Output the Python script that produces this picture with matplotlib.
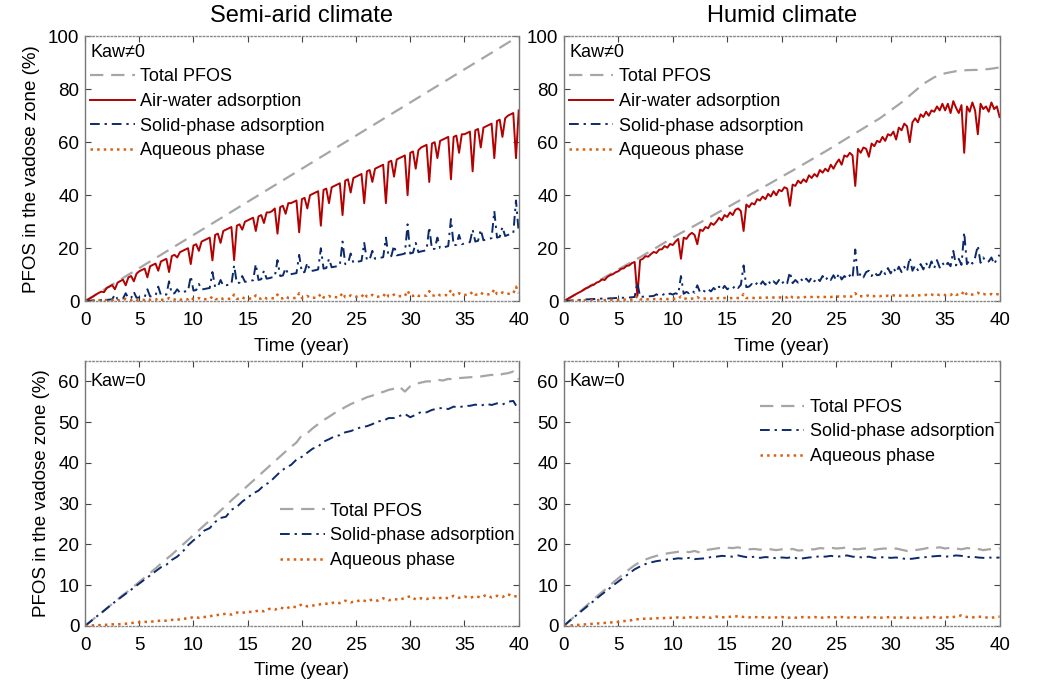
import matplotlib.pyplot as plt
import numpy as np

plt.rcParams['font.family'] = ['Liberation Sans', 'DejaVu Sans']

# time axes
t_quarter = np.arange(0, 40.01, 0.25)   # 161 points, top panels
t_half = np.arange(0, 40.01, 0.5)       # 81 points, bottom panels
t_year = np.arange(0, 41, 1)            # 41 points

# ---- Semi-arid, Kaw != 0 ----
semi_total_t = [0, 40]
semi_total = [0, 100]
semi_air = [
    0, 0.6, 1.2, 1.8, 2.5, 3.1, 3.6, 3.4, 5, 5.5, 6.1, 4.5, 7, 7.6, 8.1, 6.0,
    9, 9.5, 7.5, 10.4, 11.3, 11.8, 12.3, 9.0, 13.2, 13.7, 14.2, 11.5, 15, 15.5, 16, 11,
    17, 17.5, 16.5, 18.5, 19, 19.5, 20, 14, 21, 21.5, 19, 22.5, 23, 23.5, 24, 15.4,
    25, 25.5, 22, 26.5, 27, 27.5, 28, 15.5, 28.5, 29, 27, 30, 30.5, 31, 31.5, 26.5,
    32, 32.5, 29.5, 33.5, 33.5, 34, 35, 25.5, 35.5, 36, 33, 37, 37, 37.5, 38, 26,
    38.5, 39, 35, 40, 40.5, 41, 41.5, 28.5, 42, 42.5, 37, 43, 43.5, 44, 44.5, 32.5,
    45.5, 46, 41, 46.5, 47, 47.5, 48, 37, 49, 49.5, 45, 50, 50.5, 51, 51.5, 37,
    52.5, 53, 47, 53.5, 54, 54.5, 55, 40, 56, 56.5, 50, 57, 58, 58.5, 59, 45,
    59.5, 60, 54, 60.5, 61, 61.5, 62, 46, 62, 62.5, 56, 63, 63, 63.5, 64, 49,
    64.5, 65, 58, 65.5, 66, 66.5, 67, 54, 68, 68.5, 62, 69, 70, 70.5, 71, 54,
    72]
semi_solid = [
    0, 0.1, 0.2, 0.3, 0.3, 0.4, 0.5, 1.0, 0.5, 0.6, 0.7, 2.5, 0.8, 0.9, 1.0, 3.0,
    1.1, 1.2, 3.5, 1.3, 1.4, 1.5, 1.6, 4.5, 1.8, 2.0, 2.1, 5.5, 2.3, 2.4, 2.5, 7.5,
    2.8, 3.0, 4.5, 3.2, 3.5, 3.7, 3.8, 9.5, 4.0, 4.2, 6.5, 4.4, 4.6, 4.8, 5.0, 11,
    5.3, 5.5, 8, 5.8, 6.0, 6.2, 6.4, 13.5, 6.8, 7.0, 9.5, 7.3, 7.5, 7.7, 7.9, 14,
    8.0, 8.3, 11.5, 8.5, 8.7, 9.0, 9.2, 15.5, 9.5, 9.7, 12.5, 10.0, 10.2, 10.4, 10.6, 17.5,
    10.8, 11, 14.5, 11.3, 11.5, 11.7, 12.0, 20, 12.3, 12.5, 16, 12.8, 13, 13.2, 13.5, 22.5,
    14, 14.2, 18, 14.5, 14.7, 15, 15.2, 22, 15.5, 15.7, 19, 16, 16.2, 16.4, 16.6, 24,
    16.8, 17, 21, 17.3, 17.5, 17.7, 18, 29, 18, 18.3, 22, 18.5, 18.8, 19, 19.3, 28,
    19.5, 19.8, 24, 20, 20.2, 20.5, 20.8, 31, 21, 21.3, 25, 21.5, 21.8, 22, 22.3, 27,
    22.5, 22.8, 27, 23, 23.3, 23.5, 23.8, 34, 24, 24.3, 28, 24.6, 25, 25.3, 25.6, 38,
    26]
semi_aq = [
    0, 0.1, 0.2, 0.3, 0.3, 0.3, 0.3, 0.6, 0.3, 0.3, 0.4, 0.8, 0.3, 0.4, 0.4, 0.9,
    0.4, 0.4, 0.9, 0.4, 0.5, 0.5, 0.5, 1.0, 0.5, 0.5, 0.5, 1.1, 0.5, 0.6, 0.6, 1.2,
    0.6, 0.6, 1.0, 0.6, 0.6, 0.7, 0.7, 1.5, 0.7, 0.7, 1.2, 0.7, 0.7, 0.8, 0.8, 1.8,
    0.8, 0.8, 1.3, 0.8, 0.8, 0.9, 0.9, 2.5, 0.9, 0.9, 1.5, 0.9, 1.0, 1.0, 1.0, 2.2,
    1.0, 1.0, 1.6, 1.0, 1.1, 1.1, 1.1, 2.5, 1.1, 1.1, 1.8, 1.2, 1.2, 1.2, 1.2, 3.0,
    1.2, 1.3, 2.0, 1.3, 1.3, 1.3, 1.4, 2.8, 1.4, 1.4, 2.0, 1.4, 1.5, 1.5, 1.5, 3.2,
    1.5, 1.5, 2.2, 1.6, 1.6, 1.6, 1.6, 3.0, 1.7, 1.7, 2.4, 1.7, 1.7, 1.8, 1.8, 3.2,
    1.8, 1.8, 2.5, 1.9, 1.9, 1.9, 1.9, 4.0, 2.0, 2.0, 2.6, 2.0, 2.0, 2.1, 2.1, 3.8,
    2.1, 2.2, 2.8, 2.2, 2.2, 2.3, 2.3, 4.2, 2.3, 2.3, 3.0, 2.4, 2.4, 2.4, 2.5, 3.6,
    2.5, 2.5, 3.2, 2.6, 2.6, 2.6, 2.7, 4.5, 2.7, 2.7, 3.3, 2.8, 2.8, 2.8, 2.9, 5.5,
    3.0]

# ---- Humid, Kaw != 0 ----
humid_total = [0, 2.4, 4.8, 7.2, 9.6, 12, 14.3, 16.6, 19, 21.5, 24, 26.3, 28.5, 30.8,
               33.1, 35.4, 37.7, 40, 42.3, 44.6, 47, 49.3, 51.7, 54.1, 56.5, 59, 61.5,
               64, 66.5, 69, 72, 75, 78.5, 82, 84.5, 86, 86.8, 87.2, 87.3, 87.6, 88.2]
humid_air = [
    0, 0.6, 1.2, 1.8, 2.4, 3.0, 3.5, 4.1, 4.8, 5.2, 5.9, 6.2, 7.0, 7.4, 8.2, 8.0,
    9.2, 9.8, 10.2, 10.9, 11.3, 12.2, 12.4, 13.3, 13.5, 14.4, 14.8, 2.0, 15.5, 16.0, 17.0, 16.8,
    17.8, 18.6, 18.2, 19.5, 19.6, 20.8, 20.2, 21.6, 21.2, 22.5, 23.5, 16.0, 24.0, 23.5, 25.0, 25.8,
    25.0, 21.5, 27.0, 26.5, 28.0, 27.5, 29.5, 28.8, 30.0, 31.5, 30.5, 32.5, 31.8, 33.5, 32.5, 34.5,
    35.0, 34.0, 26.5, 36.5, 35.5, 37.0, 36.5, 38.5, 38.0, 39.5, 38.5, 40.5, 39.5, 41.5, 40.0, 42.0,
    41.5, 43.0, 42.5, 36.0, 44.0, 43.5, 45.5, 44.5, 46.0, 45.0, 47.5, 46.5, 48.0, 47.0, 49.5, 48.5,
    50.0, 49.0, 51.5, 50.0, 52.0, 53.5, 51.5, 55.0, 54.5, 56.0, 55.0, 43.5, 57.5, 56.0, 58.0, 57.5,
    54.5, 59.5, 58.5, 60.5, 60.0, 62.0, 60.5, 63.0, 62.5, 64.0, 61.0, 65.5, 64.5, 67.0, 66.0, 60.0,
    67.5, 69.0, 67.5, 70.5, 69.5, 71.5, 70.0, 72.0, 71.5, 73.5, 72.0, 74.5, 72.0, 74.5, 71.0, 75.5,
    73.0, 71.0, 74.0, 56.0, 73.5, 71.5, 75.0, 72.0, 63.0, 74.5, 72.5, 73.5, 71.5, 75.0, 72.5, 73.5,
    69.5]
humid_solid = [
    0, 0.1, 0.2, 0.3, 0.4, 0.5, 0.5, 0.6, 0.7, 0.7, 0.8, 0.8, 0.9, 0.9, 1.0, 1.0,
    1.0, 1.1, 1.1, 1.2, 1.2, 1.3, 1.3, 1.4, 1.4, 1.5, 1.6, 7.0, 1.6, 1.7, 1.8, 1.8,
    1.9, 2.0, 2.6, 2.0, 2.2, 2.8, 2.3, 2.9, 2.5, 3.0, 2.6, 9.5, 2.8, 3.5, 3.0, 4.0,
    3.2, 6.0, 3.4, 4.2, 3.5, 4.5, 3.7, 5.0, 4.0, 5.5, 4.2, 5.8, 4.5, 5.2, 4.7, 6.0,
    5.0, 6.2, 13.5, 5.3, 5.5, 6.5, 5.7, 7.0, 6.0, 7.5, 6.2, 7.8, 6.3, 7.5, 6.5, 8.0,
    6.5, 7.8, 6.8, 11.0, 6.8, 8.0, 7.0, 8.5, 7.2, 8.5, 7.3, 9.0, 7.5, 8.8, 7.6, 9.5,
    7.8, 9.2, 8.0, 9.8, 8.0, 10.5, 8.2, 9.5, 8.5, 9.8, 8.7, 19.5, 8.8, 10.5, 9.0, 11.0,
    11.5, 9.5, 11.0, 9.8, 10.0, 12.0, 10.2, 12.5, 10.5, 12.5, 10.8, 13.0, 11.0, 13.0, 11.2, 16.5,
    11.5, 13.5, 11.7, 14.0, 12.0, 14.5, 12.2, 15.0, 12.5, 15.5, 12.7, 14.5, 13.0, 14.5, 13.2, 19.0,
    13.5, 16.0, 13.7, 26.0, 14.0, 15.5, 14.2, 16.5, 21.0, 14.5, 16.5, 14.8, 15.0, 16.5, 14.0, 16.0,
    17.5]
humid_aq = [
    0, 0.1, 0.1, 0.2, 0.2, 0.2, 0.3, 0.3, 0.3, 0.3, 0.3, 0.4, 0.4, 0.4, 0.4, 0.4,
    0.4, 0.5, 0.5, 0.5, 0.5, 0.5, 0.6, 0.6, 0.6, 0.6, 0.6, 2.0, 0.7, 0.7, 0.7, 0.7,
    0.7, 0.8, 0.8, 0.8, 0.8, 0.9, 0.8, 0.9, 0.9, 0.9, 0.9, 1.8, 0.9, 1.0, 0.9, 1.0,
    1.0, 1.5, 1.0, 1.0, 1.0, 1.1, 1.0, 1.1, 1.1, 1.2, 1.1, 1.2, 1.1, 1.2, 1.1, 1.2,
    1.2, 1.3, 2.7, 1.2, 1.2, 1.3, 1.2, 1.3, 1.3, 1.4, 1.3, 1.4, 1.3, 1.4, 1.3, 1.4,
    1.4, 1.5, 1.4, 2.2, 1.4, 1.5, 1.4, 1.5, 1.5, 1.6, 1.5, 1.6, 1.5, 1.6, 1.5, 1.6,
    1.6, 1.7, 1.6, 1.7, 1.6, 1.8, 1.7, 1.8, 1.7, 1.8, 1.7, 3.0, 1.8, 1.9, 1.8, 1.9,
    2.3, 1.9, 1.9, 2.0, 1.9, 2.0, 1.9, 2.1, 2.0, 2.2, 2.0, 2.2, 2.0, 2.2, 2.1, 2.6,
    2.1, 2.3, 2.1, 2.3, 2.2, 2.4, 2.2, 2.5, 2.2, 2.6, 2.3, 2.5, 2.3, 2.5, 2.3, 3.0,
    2.4, 2.6, 2.4, 4.0, 2.4, 2.6, 2.5, 2.7, 3.2, 2.5, 2.7, 2.5, 2.5, 2.7, 2.4, 2.6,
    2.8]

# ---- Semi-arid, Kaw = 0 ----
semi0_total = [
    0, 1.1, 2.2, 3.2, 4.3, 5.4, 6.5, 7.6, 8.6, 9.7,
    10.8, 11.9, 13.0, 14.1, 15.3, 16.4, 17.5, 18.7, 19.9, 21.1,
    22.3, 23.5, 24.7, 25.9, 27.1, 28.3, 29.5, 30.8, 32.0, 33.2,
    34.4, 35.6, 36.8, 38.0, 39.2, 40.4, 41.6, 42.8, 43.9, 45.0,
    46.8, 47.3, 48.5, 49.5, 50.5, 51.3, 52.2, 52.9, 53.7, 54.4,
    55.0, 55.5, 56.1, 56.5, 57.1, 57.4, 57.9, 58.2, 58.7, 57.5,
    58.8, 59.4, 59.7, 60.0, 60.0, 60.4, 60.2, 60.6, 60.5, 60.8,
    60.9, 61.0, 61.1, 61.2, 61.4, 61.6, 61.3, 61.8, 62.0, 62.4,
    60.5]
semi0_solid = [
    0, 1.1, 2.2, 3.2, 4.3, 5.4, 6.4, 7.4, 8.4, 9.4,
    10.4, 11.4, 12.4, 13.4, 14.4, 15.0, 16.2, 17.0, 18.2, 19.8,
    21.0, 22.0, 23.4, 24.0, 25.5, 26.5, 26.8, 28.5, 29.2, 30.5,
    31.5, 32.5, 33.2, 34.5, 35.2, 36.5, 37.8, 38.8, 39.5, 40.8,
    41.5, 42.5, 43.5, 44.0, 45.2, 45.8, 46.5, 46.8, 47.5, 47.8,
    48.3, 48.8, 49.0, 49.5, 50.2, 50.3, 51.0, 51.0, 51.5, 52.0,
    51.2, 51.8, 52.5, 52.4, 53.0, 53.3, 53.5, 53.2, 53.8, 53.6,
    54.0, 54.0, 54.3, 54.0, 54.5, 54.2, 54.6, 54.3, 55.0, 55.2,
    53.0]
semi0_aq = [
    0, 0.1, 0.2, 0.2, 0.3, 0.4, 0.4, 0.5, 0.6, 0.8,
    0.9, 1.0, 1.0, 1.2, 1.3, 1.3, 1.5, 1.5, 1.8, 1.8,
    2.2, 2.0, 2.2, 2.4, 2.6, 2.8, 3.0, 2.8, 3.3, 3.2,
    3.5, 3.4, 3.8, 3.6, 4.2, 4.0, 4.5, 4.2, 4.8, 4.6,
    5.3, 4.8, 5.0, 5.2, 5.5, 5.4, 5.8, 5.6, 6.2, 5.8,
    6.0, 6.4, 6.0, 6.5, 6.2, 6.8, 6.3, 6.6, 6.4, 6.9,
    7.3, 6.5, 6.8, 6.6, 7.0, 6.7, 7.0, 6.8, 7.4, 6.9,
    7.2, 6.9, 7.3, 7.0, 7.6, 7.0, 7.4, 7.1, 7.8, 7.2,
    7.4]

# ---- Humid, Kaw = 0 ----
humid0_total = [
    0, 1.2, 2.4, 3.6, 4.8, 6.0, 7.2, 8.3, 9.4, 10.6,
    11.7, 12.8, 13.9, 14.9, 15.7, 16.3, 16.8, 17.2, 17.5, 17.8,
    18.0, 18.2, 18.3, 18.1, 18.4, 18.0, 18.6, 18.8, 19.0, 19.2,
    19.2, 19.1, 19.3, 18.9, 18.8, 18.9, 18.7, 18.9, 18.8, 18.6,
    18.8, 18.6, 18.9, 18.5, 18.6, 18.8, 18.8, 19.1, 19.0, 19.2,
    19.0, 19.1, 19.3, 18.9, 18.8, 19.0, 19.0, 18.7, 18.9, 19.0,
    18.8, 19.0, 18.7, 18.4, 18.5, 18.7, 18.9, 19.2, 19.1, 19.3,
    19.0, 19.2, 19.0, 18.8, 19.1, 19.0, 18.9, 18.6, 18.8, 18.9,
    19.0]
humid0_solid = [
    0, 1.2, 2.3, 3.4, 4.5, 5.6, 6.7, 7.8, 8.8, 9.9,
    10.9, 11.9, 12.9, 13.9, 14.6, 15.2, 15.6, 15.9, 16.1, 16.3,
    16.4, 16.6, 16.5, 16.7, 16.4, 16.5, 16.6, 16.9, 17.0, 17.2,
    17.1, 17.0, 17.3, 17.0, 16.8, 17.0, 16.7, 16.9, 16.8, 16.6,
    16.8, 16.7, 16.9, 16.5, 16.6, 16.8, 16.9, 17.1, 17.0, 17.2,
    17.0, 17.1, 17.3, 17.0, 16.9, 16.8, 17.0, 16.7, 16.8, 16.9,
    16.7, 16.8, 16.6, 16.4, 16.5, 16.7, 16.8, 17.0, 17.1, 17.2,
    17.0, 17.1, 17.3, 17.2, 16.9, 17.0, 16.8, 16.7, 16.8, 16.7,
    16.8]
humid0_aq = [
    0, 0.1, 0.2, 0.3, 0.4, 0.5, 0.6, 0.7, 0.8, 0.9,
    1.0, 1.2, 1.3, 1.6, 1.7, 1.8, 1.8, 1.9, 1.9, 2.0,
    2.0, 2.1, 2.0, 2.2, 2.0, 2.1, 2.2, 2.0, 2.3, 2.1,
    2.2, 2.3, 2.4, 2.2, 2.1, 2.2, 2.1, 2.2, 2.0, 2.1,
    2.2, 2.0, 2.1, 2.0, 2.2, 2.1, 2.2, 2.0, 2.1, 2.2,
    2.1, 2.2, 2.0, 2.2, 2.1, 2.0, 2.2, 2.1, 2.0, 2.1,
    2.2, 2.0, 2.1, 2.0, 2.1, 1.9, 2.0, 2.1, 2.2, 2.0,
    2.2, 2.1, 2.3, 2.6, 2.2, 2.1, 2.3, 2.2, 2.0, 2.1,
    2.3]

# styles
c_total = '#a6a6a6'
c_air = '#b30000'
c_solid = '#0c2a6b'
c_aq = '#d9600f'
total_kw = dict(color=c_total, lw=1.6, dashes=(6, 3.5))
air_kw = dict(color=c_air, lw=1.4, ls='-')
solid_kw = dict(color=c_solid, lw=1.4, dashes=(5, 2.5, 1.2, 2.5))
aq_kw = dict(color=c_aq, lw=1.8, ls=':')

fig = plt.figure(figsize=(10.5, 6.83), dpi=100)
ax_tl = fig.add_axes([0.081, 0.559, 0.413, 0.388])
ax_tr = fig.add_axes([0.537, 0.559, 0.415, 0.388])
ax_bl = fig.add_axes([0.081, 0.0835, 0.413, 0.388])
ax_br = fig.add_axes([0.537, 0.0835, 0.415, 0.388])

FS = 13.5
leg_kw = dict(frameon=False, fontsize=13, handlelength=2.45, handletextpad=0.3,
              labelspacing=0.42, borderpad=0.2, borderaxespad=0)


def style_axes(ax, ymax, yticks):
    ax.set_xlim(0, 40)
    ax.set_ylim(0, ymax)
    ax.set_xticks(range(0, 41, 5))
    ax.set_yticks(yticks)
    ax.tick_params(direction='in', length=4, width=0.8, color='#444444',
                   labelsize=FS, top=True, right=True)
    ax.tick_params(axis='x', pad=8)
    ax.tick_params(axis='y', pad=4)
    for side in ['left', 'right']:
        ax.spines[side].set_color('#777777')
        ax.spines[side].set_linewidth(1.0)
    for side in ['top', 'bottom']:
        ax.spines[side].set_color('#888888')
        ax.spines[side].set_linestyle(':')
        ax.spines[side].set_linewidth(1.0)
    ax.set_xlabel('Time (year)', fontsize=FS, labelpad=6)


# top-left
ax = ax_tl
ax.plot(semi_total_t, semi_total, label='Total PFOS', **total_kw)
ax.plot(t_quarter, semi_air, label='Air-water adsorption', **air_kw)
ax.plot(t_quarter, semi_solid, label='Solid-phase adsorption', **solid_kw)
ax.plot(t_quarter, semi_aq, label='Aqueous phase', **aq_kw)
style_axes(ax, 100, range(0, 101, 20))
ax.set_ylabel('PFOS in the vadose zone (%)', fontsize=FS, labelpad=6)
ax.set_title('Semi-arid climate', fontsize=17, pad=10)

# top-right
ax = ax_tr
ax.plot(t_year, humid_total, label='Total PFOS', **total_kw)
ax.plot(t_quarter, humid_air, label='Air-water adsorption', **air_kw)
ax.plot(t_quarter, humid_solid, label='Solid-phase adsorption', **solid_kw)
ax.plot(t_quarter, humid_aq, label='Aqueous phase', **aq_kw)
style_axes(ax, 100, range(0, 101, 20))
ax.set_title('Humid climate', fontsize=17, pad=10)

for ax in [ax_tl, ax_tr]:
    ax.legend(loc='upper left', bbox_to_anchor=(0.004, 0.985),
              title='Kaw≠0', title_fontsize=13, alignment='left', **leg_kw)

# bottom-left
ax = ax_bl
ax.plot(t_half, semi0_total, label='Total PFOS', **total_kw)
ax.plot(t_half, semi0_solid, label='Solid-phase adsorption', **solid_kw)
ax.plot(t_half, semi0_aq, label='Aqueous phase', **aq_kw)
style_axes(ax, 65, range(0, 61, 10))
ax.set_ylabel('PFOS in the vadose zone (%)', fontsize=FS, labelpad=6)
ax.legend(loc='center left', bbox_to_anchor=(0.442, 0.34), **leg_kw)

# bottom-right
ax = ax_br
ax.plot(t_half, humid0_total, label='Total PFOS', **total_kw)
ax.plot(t_half, humid0_solid, label='Solid-phase adsorption', **solid_kw)
ax.plot(t_half, humid0_aq, label='Aqueous phase', **aq_kw)
style_axes(ax, 65, range(0, 61, 10))
ax.legend(loc='center left', bbox_to_anchor=(0.442, 0.732), **leg_kw)

for ax in [ax_bl, ax_br]:
    ax.text(0.012, 0.955, 'Kaw=0', transform=ax.transAxes, fontsize=13,
            va='top', ha='left')

fig.savefig('out.png', dpi=100)
